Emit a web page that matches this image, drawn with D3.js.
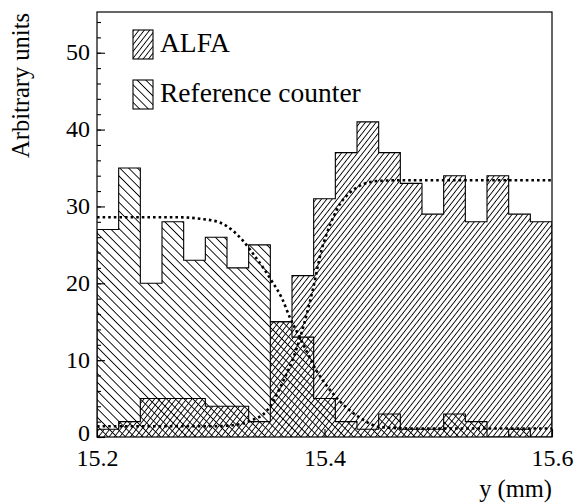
<!DOCTYPE html>
<html>
<head>
<meta charset="utf-8">
<script src="https://cdn.jsdelivr.net/npm/d3@7"></script>
<style>
	body { margin: 0; background: #fff; }
	svg text { font-family: "Liberation Serif", "Times New Roman", Times, serif; fill: #000; }
</style>
</head>
<body>
<svg id="chart" width="574" height="503"></svg>
<script>
// histogram range, 21 bins between 15.2 and 15.6 mm
var xRange = [15.2, 15.6];
var yRange = [0, 55.3];

// ALFA counts per bin
var alfaCounts = [1, 2, 5, 5, 5, 4, 4, 2, 15, 21, 31, 37, 41, 37, 33, 29, 34, 28, 34, 29, 28];
// reference counter counts per bin
var refCounts = [27, 35, 20, 28, 23, 26, 22, 25, 15, 13, 5, 2, 1, 3, 1, 1, 3, 2, 0, 1, 0];

// fit curves
var alfaFitX = [15.2, 15.30, 15.317, 15.3345, 15.3492, 15.3638, 15.3726, 15.3785, 15.3844, 15.3901, 15.3975, 15.4019, 15.4077, 15.4136, 15.4224, 15.4341, 15.4459, 15.4635, 15.6];
var alfaFitY = [1.4, 1.4, 1.5, 2.1, 3.4, 7.3, 10.3, 12.9, 16.0, 19.4, 24.4, 26.4, 28.6, 30.3, 31.8, 32.9, 33.3, 33.4, 33.4];
var refFitX = [15.2, 15.27, 15.2905, 15.3081, 15.3198, 15.3286, 15.3374, 15.3462, 15.3536, 15.3624, 15.3697, 15.3785, 15.3931, 15.4107, 15.4312, 15.4488, 15.48, 15.6];
var refFitY = [28.6, 28.6, 28.4, 27.9, 26.8, 25.5, 23.8, 22.0, 20.3, 18.1, 15.5, 12.9, 8.6, 5.1, 2.5, 1.3, 1.1, 1.1];

var xTicks = [15.2, 15.4, 15.6];
var yTicks = [0, 10, 20, 30, 40, 50];

var legendItems = [
	{label: "ALFA", pattern: "hatchAlfa"},
	{label: "Reference counter", pattern: "hatchRef"}
];

var serif = '"Liberation Serif", "Times New Roman", Times, serif';

var margin = {left: 97, right: 22, top: 12, bottom: 66},
	width = 574,
	height = 503,
	plotW = width - margin.left - margin.right,
	plotH = height - margin.top - margin.bottom;

var svg = d3.select("#chart").attr("font-family", serif);

var x = d3.scaleLinear().domain(xRange).range([margin.left, margin.left + plotW]);
var y = d3.scaleLinear().domain(yRange).range([margin.top + plotH, margin.top]);

// hatch patterns
var defs = svg.append("defs");

function makeHatch(id, spacing, angle, sw) {
	var p = defs.append("pattern")
		.attr("id", id)
		.attr("patternUnits", "userSpaceOnUse")
		.attr("width", spacing)
		.attr("height", spacing)
		.attr("patternTransform", "rotate(" + angle + ")");
	p.append("line")
		.attr("x1", spacing / 2).attr("y1", 0)
		.attr("x2", spacing / 2).attr("y2", spacing)
		.attr("stroke", "#000")
		.attr("stroke-width", sw);
}
makeHatch("hatchAlfa", 4.2, 38, 0.9);
makeHatch("hatchRef", 6.2, -45, 0.9);

defs.append("clipPath").attr("id", "plotClip")
	.append("rect")
	.attr("x", margin.left).attr("y", margin.top)
	.attr("width", plotW).attr("height", plotH);

var plot = svg.append("g").attr("clip-path", "url(#plotClip)");

// histogram outline as a step path
var nBins = alfaCounts.length,
	binW = (xRange[1] - xRange[0]) / nBins;

function histPoints(counts) {
	var pts = [[xRange[0], 0]];
	counts.forEach(function(c, i) {
		pts.push([xRange[0] + i * binW, c]);
	});
	pts.push([xRange[1], counts[counts.length - 1]]);
	pts.push([xRange[1], 0]);
	return pts;
}

var stepLine = d3.line()
	.x(function(d) { return x(d[0]); })
	.y(function(d) { return y(d[1]); })
	.curve(d3.curveStepAfter);

[{counts: refCounts, pattern: "hatchRef"}, {counts: alfaCounts, pattern: "hatchAlfa"}].forEach(function(h) {
	plot.append("path")
		.attr("d", stepLine(histPoints(h.counts)))
		.attr("fill", "url(#" + h.pattern + ")")
		.attr("stroke", "#000")
		.attr("stroke-width", 1.1);
});

// fit curves
var fitLine = d3.line()
	.x(function(d) { return x(d[0]); })
	.y(function(d) { return y(d[1]); })
	.curve(d3.curveMonotoneX);

[[refFitX, refFitY], [alfaFitX, alfaFitY]].forEach(function(f) {
	plot.append("path")
		.attr("d", fitLine(d3.zip(f[0], f[1])))
		.attr("fill", "none")
		.attr("stroke", "#000")
		.attr("stroke-width", 2.6)
		.attr("stroke-dasharray", "2.6,3");
});

// frame
svg.append("rect")
	.attr("x", margin.left).attr("y", margin.top)
	.attr("width", plotW).attr("height", plotH)
	.attr("fill", "none")
	.attr("stroke", "#000")
	.attr("stroke-width", 1.2);

// axes
var yMinor = d3.range(0, yRange[1], 2);

svg.append("g")
	.attr("transform", "translate(" + margin.left + ",0)")
	.call(d3.axisLeft(y).tickValues(yMinor).tickSizeInner(-4).tickSizeOuter(0).tickFormat(""))
	.call(function(g) { g.select(".domain").remove(); });

svg.append("g")
	.attr("transform", "translate(" + margin.left + ",0)")
	.call(d3.axisLeft(y).tickValues(yTicks).tickSizeInner(-8).tickSizeOuter(0).tickPadding(7).tickFormat(d3.format("d")))
	.call(function(g) {
		g.attr("font-family", serif).attr("font-size", null);
		g.select(".domain").remove();
		g.selectAll("text").style("font-size", "24px").attr("dy", "0.3em");
		// lift the zero label a little so it clears the x labels
		g.selectAll("text").filter(function(d) { return d === 0; }).attr("dy", "0.16em");
	});

svg.append("g")
	.attr("transform", "translate(0," + (margin.top + plotH) + ")")
	.call(d3.axisBottom(x).tickValues(xTicks).tickSizeInner(-8).tickSizeOuter(0).tickPadding(12).tickFormat(d3.format(".1f")))
	.call(function(g) {
		g.attr("font-family", serif).attr("font-size", null);
		g.select(".domain").remove();
		g.selectAll("text").style("font-size", "24px");
	});

svg.selectAll(".tick line").attr("stroke", "#000").attr("stroke-width", 1.1);

// axis titles
svg.append("text")
	.attr("x", margin.left + plotW)
	.attr("y", 497)
	.attr("text-anchor", "end")
	.style("font-size", "24.5px")
	.text("y (mm)");

svg.append("text")
	.attr("transform", "translate(29,13) rotate(-90)")
	.attr("text-anchor", "end")
	.style("font-size", "24.5px")
	.text("Arbitrary units");

// legend
var legend = svg.append("g");
legendItems.forEach(function(item, i) {
	var ly = 30 + i * 50;
	legend.append("rect")
		.attr("x", 133).attr("y", ly)
		.attr("width", 20).attr("height", 29)
		.attr("fill", "url(#" + item.pattern + ")")
		.attr("stroke", "#000")
		.attr("stroke-width", 1.1);
	legend.append("text")
		.attr("x", 160).attr("y", ly + 22)
		.style("font-size", "27.5px")
		.text(item.label);
});
</script>
</body>
</html>
